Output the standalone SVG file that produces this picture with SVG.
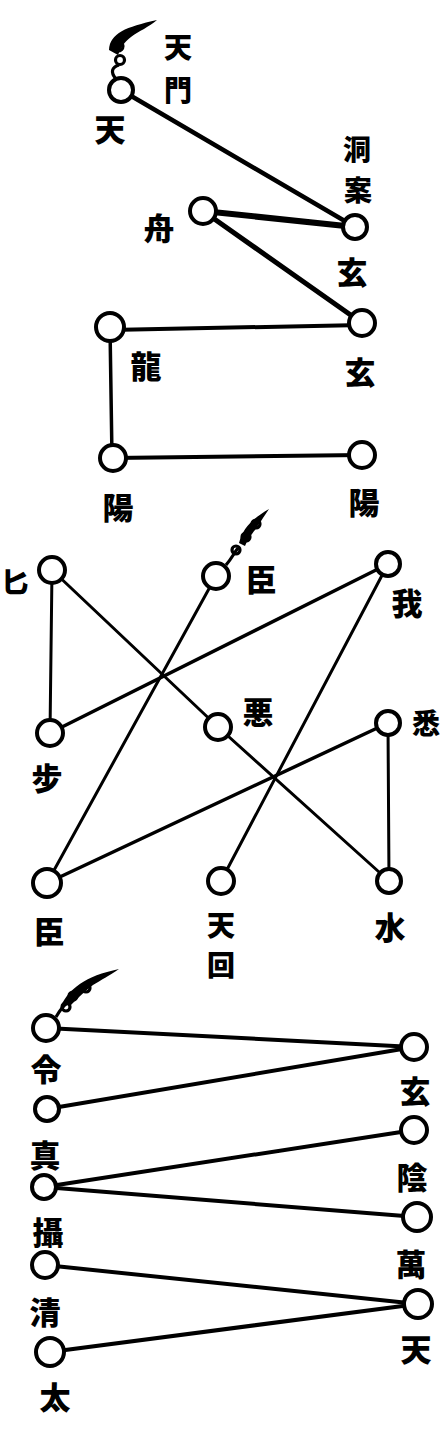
<svg xmlns="http://www.w3.org/2000/svg" width="445" height="1430" viewBox="0 0 445 1430">
<style>
.bg{fill:#fff}
.n{fill:#fff;stroke:#000;stroke-width:4}
.e{stroke:#000;fill:none;stroke-linecap:round}
.t{font-family:"Noto Sans CJK JP","Noto Sans CJK SC",sans-serif;font-weight:900;font-size:31px;fill:#000;text-anchor:middle;dominant-baseline:central}
.s{font-size:28px}
.tail{fill:#000}
.curl{fill:none;stroke:#000;stroke-width:3.2}
</style>
<rect class="bg" x="0" y="0" width="445" height="1430"/>
<g id="connectors">
  <line class="e" x1="121" y1="90" x2="355" y2="227" stroke-width="4.5"/>
  <line class="e" x1="203" y1="211" x2="355" y2="227" stroke-width="6"/>
  <line class="e" x1="203" y1="211" x2="362" y2="323" stroke-width="5"/>
  <line class="e" x1="110" y1="330" x2="362" y2="325" stroke-width="4"/>
  <line class="e" x1="110" y1="327" x2="112" y2="458" stroke-width="3.5"/>
  <line class="e" x1="113" y1="458" x2="362" y2="455" stroke-width="4"/>
  <line class="e" x1="52" y1="570" x2="50" y2="733" stroke-width="3"/>
  <line class="e" x1="52" y1="570" x2="218" y2="727" stroke-width="3"/>
  <line class="e" x1="218" y1="727" x2="389" y2="881" stroke-width="3"/>
  <line class="e" x1="216" y1="576" x2="47" y2="883" stroke-width="3"/>
  <line class="e" x1="388" y1="564" x2="50" y2="733" stroke-width="3.5"/>
  <line class="e" x1="388" y1="564" x2="221" y2="881" stroke-width="3"/>
  <line class="e" x1="388" y1="723" x2="47" y2="883" stroke-width="3.5"/>
  <line class="e" x1="388" y1="723" x2="389" y2="881" stroke-width="3"/>
  <line class="e" x1="46" y1="1028" x2="414" y2="1047" stroke-width="4"/>
  <line class="e" x1="47" y1="1109" x2="414" y2="1047" stroke-width="4"/>
  <line class="e" x1="44" y1="1187" x2="414" y2="1130" stroke-width="4"/>
  <line class="e" x1="44" y1="1187" x2="417" y2="1217" stroke-width="4"/>
  <line class="e" x1="45" y1="1265" x2="418" y2="1304" stroke-width="4"/>
  <line class="e" x1="50" y1="1352" x2="418" y2="1304" stroke-width="4"/>
</g>
<g id="tails">
  <path class="curl" d="M116,79 C110,72 112,67 119,65"/>
  <circle class="curl" cx="120" cy="60" r="4.5"/>
  <circle class="curl" cx="118" cy="46" r="5"/>
  <path class="tail" d="M109,50 C110,33 126,27 157,20 C149,27 139,31 131,37 C124,42 121,48 118,55 Z"/>
  <path class="curl" d="M226,565 C232,558 234,553 238,548"/>
  <circle class="curl" cx="236" cy="550" r="4"/>
  <circle class="curl" cx="246" cy="537" r="4"/>
  <circle class="curl" cx="256" cy="524" r="4"/>
  <path class="tail" d="M239,543 C243,528 252,519 269,509 C263,518 259,524 255,530 C251,535 248,539 245,546 Z"/>
  <path class="curl" d="M56,1017 C60,1010 63,1006 67,1003"/>
  <circle class="curl" cx="66" cy="1007" r="4"/>
  <circle class="curl" cx="73" cy="996" r="4"/>
  <circle class="curl" cx="86" cy="988" r="4"/>
  <path class="tail" d="M61,1006 C69,989 85,976 119,969 C109,976 101,980 93,985 C85,991 79,997 71,1005 Z"/>
</g>
<g id="node-tian1"><circle class="n" cx="121" cy="90" r="12"/><text class="t" x="110" y="127">天</text></g>
<g id="label-tianmen"><text class="t s" x="178" y="46">天</text><text class="t s" x="178" y="89">門</text></g>
<g id="node-dongan"><circle class="n" cx="355" cy="227" r="12"/><text class="t s" x="357" y="148">洞</text><text class="t s" x="358" y="189">案</text></g>
<g id="node-zhou"><circle class="n" cx="203" cy="211" r="13"/><text class="t" x="159" y="226">舟</text></g>
<g id="label-xuan-a"><text class="t" x="352" y="270">玄</text></g>
<g id="node-xuan1"><circle class="n" cx="362" cy="323" r="13"/><text class="t" x="360" y="370">玄</text></g>
<g id="node-long"><circle class="n" cx="110" cy="327" r="14"/><text class="t" x="146" y="364">龍</text></g>
<g id="node-yang1"><circle class="n" cx="113" cy="458" r="13"/><text class="t" x="118" y="505">陽</text></g>
<g id="node-yang2"><circle class="n" cx="362" cy="455" r="13"/><text class="t" x="364" y="500">陽</text></g>
<g id="node-bi"><circle class="n" cx="52" cy="570" r="13"/><text class="t s" x="15" y="581">匕</text></g>
<g id="node-chen1"><circle class="n" cx="216" cy="576" r="13"/><text class="t" x="261" y="577">臣</text></g>
<g id="node-wo"><circle class="n" cx="388" cy="564" r="12"/><text class="t" x="407" y="601">我</text></g>
<g id="node-bu"><circle class="n" cx="50" cy="733" r="13"/><text class="t" x="47" y="776">步</text></g>
<g id="node-e"><circle class="n" cx="218" cy="727" r="13"/><text class="t" x="258" y="710">悪</text></g>
<g id="node-xi"><circle class="n" cx="388" cy="723" r="12"/><text class="t s" x="426" y="722">悉</text></g>
<g id="node-chen2"><circle class="n" cx="47" cy="883" r="14"/><text class="t" x="49" y="929">臣</text></g>
<g id="node-tianhui"><circle class="n" cx="221" cy="881" r="13"/><text class="t s" x="221" y="924">天</text><text class="t s" x="221" y="964">回</text></g>
<g id="node-shui"><circle class="n" cx="389" cy="881" r="12"/><text class="t" x="390" y="925">水</text></g>
<g id="node-ling"><circle class="n" cx="46" cy="1028" r="13"/><text class="t" x="46" y="1067">令</text></g>
<g id="node-zhen"><circle class="n" cx="47" cy="1109" r="12"/><text class="t" x="45" y="1153">真</text></g>
<g id="node-she"><circle class="n" cx="44" cy="1187" r="12"/><text class="t" x="48" y="1230">攝</text></g>
<g id="node-qing"><circle class="n" cx="45" cy="1265" r="13"/><text class="t" x="45" y="1310">清</text></g>
<g id="node-tai"><circle class="n" cx="50" cy="1352" r="14"/><text class="t" x="55" y="1395">太</text></g>
<g id="node-xuan2"><circle class="n" cx="414" cy="1047" r="13"/><text class="t" x="415" y="1089">玄</text></g>
<g id="node-yin"><circle class="n" cx="414" cy="1130" r="13"/><text class="t" x="412" y="1175">陰</text></g>
<g id="node-wan"><circle class="n" cx="417" cy="1217" r="14"/><text class="t" x="411" y="1262">萬</text></g>
<g id="node-tian2"><circle class="n" cx="418" cy="1304" r="14"/><text class="t" x="416" y="1347">天</text></g>
</svg>
